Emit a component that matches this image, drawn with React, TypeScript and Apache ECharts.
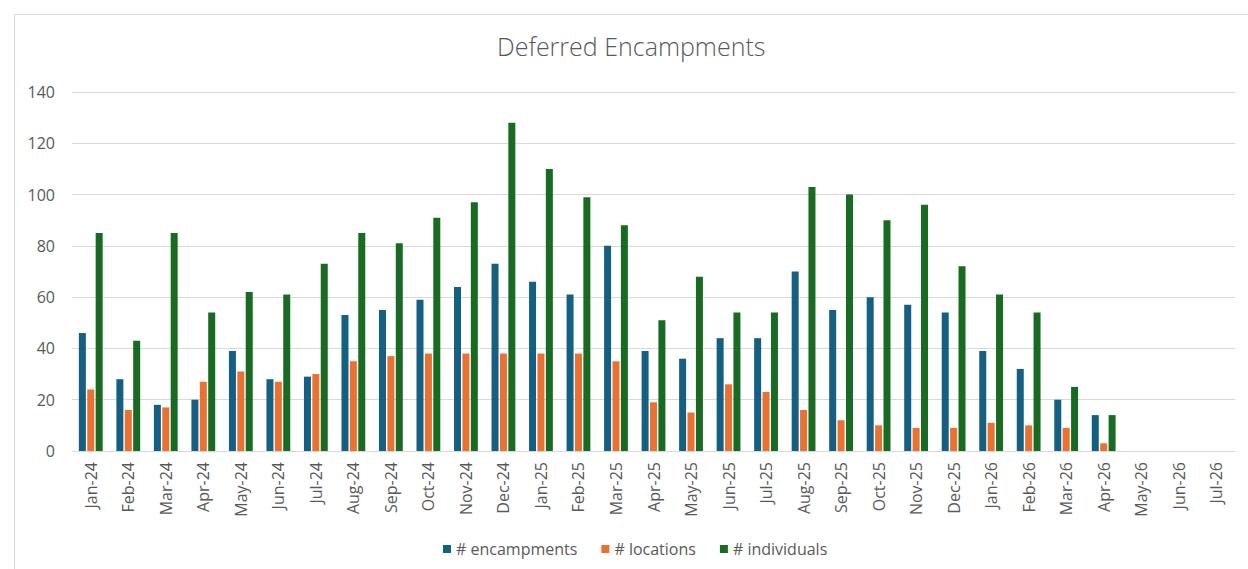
import React, { useEffect, useRef } from "react";
import * as echarts from "echarts";

const categories = [
  "Jan-24", "Feb-24", "Mar-24", "Apr-24", "May-24", "Jun-24", "Jul-24", "Aug-24", "Sep-24", "Oct-24",
  "Nov-24", "Dec-24", "Jan-25", "Feb-25", "Mar-25", "Apr-25", "May-25", "Jun-25", "Jul-25", "Aug-25",
  "Sep-25", "Oct-25", "Nov-25", "Dec-25", "Jan-26", "Feb-26", "Mar-26", "Apr-26", "May-26", "Jun-26", "Jul-26",
];

const encampments = [46, 28, 18, 20, 39, 28, 29, 53, 55, 59, 64, 73, 66, 61, 80, 39, 36, 44, 44, 70, 55, 60, 57, 54, 39, 32, 20, 14, null, null, null];
const locations = [24, 16, 17, 27, 31, 27, 30, 35, 37, 38, 38, 38, 38, 38, 35, 19, 15, 26, 23, 16, 12, 10, 9, 9, 11, 10, 9, 3, null, null, null];
const individuals = [85, 43, 85, 54, 62, 61, 73, 85, 81, 91, 97, 128, 110, 99, 88, 51, 68, 54, 54, 103, 100, 90, 96, 72, 61, 54, 25, 14, null, null, null];

const seriesNames = ["# encampments", "# locations", "# individuals"];
const colors = ["#156082", "#E97132", "#196B24"];

const FONT = "'Open Sans', 'Noto Sans', sans-serif";

export default function App() {
  const ref = useRef<HTMLDivElement>(null);
  useEffect(() => {
    if (!ref.current) return;
    const chart = echarts.init(ref.current, null, { renderer: "svg" });
    const values = [encampments, locations, individuals];
    chart.setOption({
      animation: false,
      backgroundColor: "#ffffff",
      textStyle: { fontFamily: FONT },
      title: {
        text: "Deferred Encampments",
        left: 492,
        top: 28,
        textStyle: { fontFamily: FONT, fontSize: 25, fontWeight: 300, color: "#595959" },
      },
      graphic: [
        {
          type: "rect",
          shape: { x: 14.5, y: 14.5, width: 1260, height: 600 },
          style: { fill: "none", stroke: "#d9d9d9", lineWidth: 1 },
          silent: true,
        },
      ],
      legend: {
        bottom: 7,
        left: 438,
        icon: "rect",
        itemWidth: 8,
        itemHeight: 8,
        itemGap: 24,
        textStyle: { fontFamily: FONT, fontSize: 16, color: "#595959" },
        data: seriesNames,
      },
      grid: { left: 72, right: 13, top: 92, bottom: 118, containLabel: false },
      xAxis: {
        type: "category",
        data: categories,
        axisLine: { lineStyle: { color: "#d9d9d9" } },
        axisTick: { show: false },
        axisLabel: { rotate: 90, fontSize: 16, color: "#595959", margin: 11, fontFamily: FONT, interval: 0 },
      },
      yAxis: {
        type: "value",
        min: 0,
        max: 140,
        interval: 20,
        axisLine: { show: false },
        axisTick: { show: false },
        splitLine: { lineStyle: { color: "#d9d9d9", width: 1 } },
        axisLabel: { fontSize: 16, color: "#595959", margin: 17, fontFamily: FONT },
      },
      series: seriesNames.map((name, i) => ({
        name,
        type: "bar",
        data: values[i],
        barWidth: 7,
        barGap: "20%",
        itemStyle: { color: colors[i] },
      })),
    });
    return () => chart.dispose();
  }, []);
  return (
    <div
      ref={ref}
      style={{ position: "fixed", left: 0, top: 0, width: 1248, height: 569 }}
    />
  );
}
